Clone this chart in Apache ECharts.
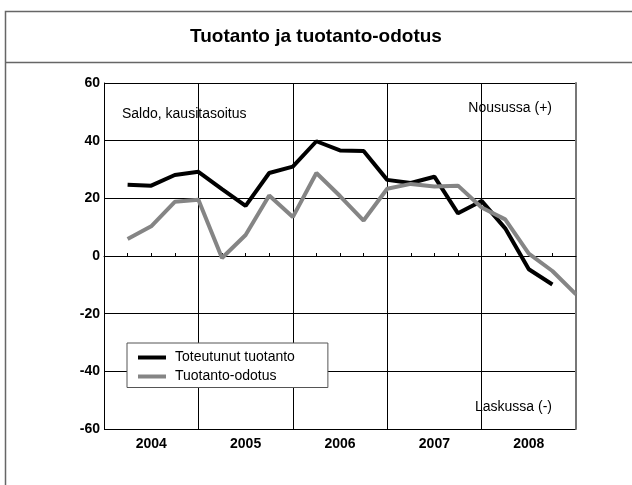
<!DOCTYPE html>
<html>
<head>
<meta charset="utf-8">
<script src="https://cdn.jsdelivr.net/npm/echarts@6/dist/echarts.min.js"></script>
<style>
html,body{margin:0;padding:0;background:#fff;}
#chart{width:632px;height:485px;}
</style>
</head>
<body>
<div id="chart"></div>
<script>
// Data (quarterly, 2004–2008)
var years = ['2004', '2005', '2006', '2007', '2008'];
var yTicks = [-60, -40, -20, 0, 20, 40, 60];
var titleText = 'Tuotanto ja tuotanto-odotus';
var seriesNames = ['Toteutunut tuotanto', 'Tuotanto-odotus'];
var toteutunut = [24.7, 24.4, 28.1, 29.2, 23.2, 17.4, 28.8, 31.0, 39.8, 36.6, 36.4, 26.4, 25.3, 27.5, 14.8, 19.1, 9.6, -4.6, -9.9];
var odotus = [5.9, 10.3, 18.8, 19.5, -0.7, 7.3, 21.0, 13.5, 28.8, 20.8, 12.3, 23.3, 25.0, 24.1, 24.4, 16.8, 12.7, 0.8, -5.2, -13.3];
var noteTopLeft = 'Saldo, kausitasoitus';
var noteTopRight = 'Nousussa (+)';
var noteBottomRight = 'Laskussa (-)';

function toPairs(arr) {
  return arr.map(function (v, i) { return [i + 1, v]; });
}

var FONT = '"Liberation Sans", Arial, sans-serif';
var chart = echarts.init(document.getElementById('chart'));
chart.setOption({
  animation: false,
  backgroundColor: '#fff',
  grid: { left: 104, right: 56, top: 83, bottom: 56, show: false },
  xAxis: [
    {
      type: 'value', min: 0, max: years.length * 4, interval: 4,
      axisLine: { show: true, lineStyle: { color: '#000', width: 1 } },
      axisTick: { show: false },
      minorTick: { show: true, splitNumber: 4, length: -3, lineStyle: { color: '#000', width: 1 } },
      axisLabel: { show: false },
      splitLine: { show: true, lineStyle: { color: '#000', width: 1 } }
    },
    {
      type: 'category', data: years, position: 'bottom', boundaryGap: true,
      axisLine: { show: false }, axisTick: { show: false },
      axisLabel: { show: true, margin: 8, color: '#000', fontFamily: FONT, fontWeight: 'bold', fontSize: 14 },
      splitLine: { show: false }
    }
  ],
  yAxis: [
    {
      type: 'value', min: yTicks[0], max: yTicks[yTicks.length - 1], interval: 20,
      axisLine: { show: true, lineStyle: { color: '#000', width: 1 } },
      axisTick: { show: false },
      axisLabel: { margin: 4, color: '#000', fontFamily: FONT, fontWeight: 'bold', fontSize: 14 },
      splitLine: { show: true, lineStyle: { color: '#000', width: 1 } }
    },
    {
      type: 'value', position: 'right', min: yTicks[0], max: yTicks[yTicks.length - 1], interval: 20,
      axisLine: { show: true, lineStyle: { color: '#777', width: 2 } },
      axisTick: { show: false }, axisLabel: { show: false }, splitLine: { show: false }
    }
  ],
  legend: {
    orient: 'vertical', left: 127, top: 343,
    padding: [7.5, 33, 4, 11],
    icon: 'rect',
    itemWidth: 28, itemHeight: 4, itemGap: 5,
    backgroundColor: '#fff', borderColor: '#555', borderWidth: 1,
    textStyle: { color: '#000', fontFamily: FONT, fontSize: 14, lineHeight: 14, padding: [0, 0, 0, 4] },
    data: seriesNames
  },
  series: [
    {
      name: seriesNames[0], type: 'line', xAxisIndex: 0, yAxisIndex: 0,
      data: toPairs(toteutunut), showSymbol: false, symbol: 'none',
      lineStyle: { color: '#000', width: 4 }, itemStyle: { color: '#000' }, z: 3
    },
    {
      name: seriesNames[1], type: 'line', xAxisIndex: 0, yAxisIndex: 0,
      data: toPairs(odotus), showSymbol: false, symbol: 'none',
      lineStyle: { color: '#858585', width: 4 }, itemStyle: { color: '#858585' }, z: 4
    }
  ],
  graphic: [
    { type: 'rect', shape: { x: 5.5, y: 11.5, width: 700, height: 600 }, style: { fill: 'none', stroke: '#666', lineWidth: 1.5 }, silent: true, z: -10 },
    { type: 'line', shape: { x1: 5.5, y1: 62.5, x2: 640, y2: 62.5 }, style: { stroke: '#666', lineWidth: 1.5 }, silent: true, z: -10 },
    { type: 'text', x: 316, y: 37, style: { text: titleText, fill: '#000', font: 'bold 19px ' + FONT, textAlign: 'center', textVerticalAlign: 'middle' } },
    { type: 'text', x: 122, y: 114.5, style: { text: noteTopLeft, fill: '#000', font: '14px ' + FONT, textAlign: 'left', textVerticalAlign: 'middle' } },
    { type: 'text', x: 552, y: 108, style: { text: noteTopRight, fill: '#000', font: '14px ' + FONT, textAlign: 'right', textVerticalAlign: 'middle' } },
    { type: 'text', x: 552, y: 407, style: { text: noteBottomRight, fill: '#000', font: '14px ' + FONT, textAlign: 'right', textVerticalAlign: 'middle' } }
  ]
});
</script>
</body>
</html>
